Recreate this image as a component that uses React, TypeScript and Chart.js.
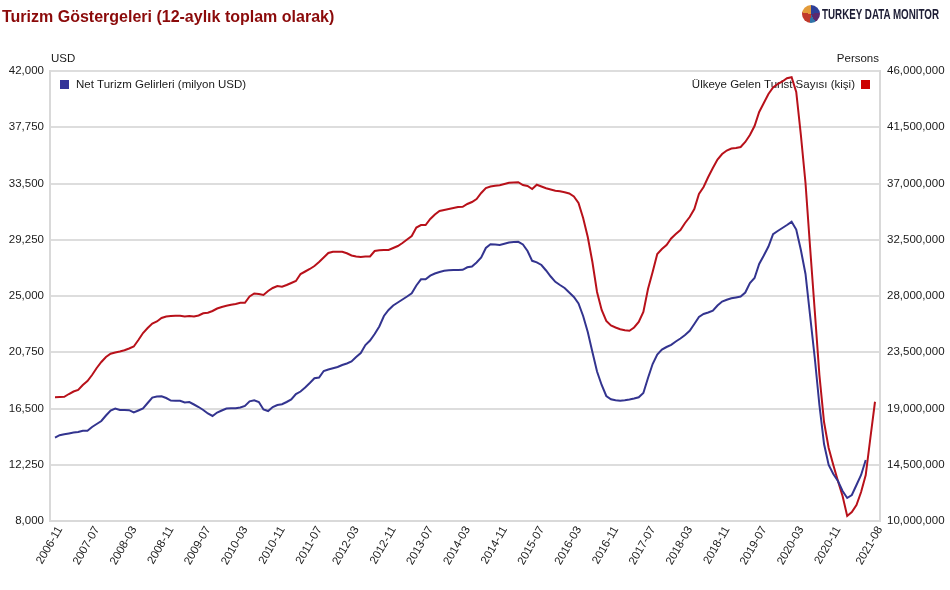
import React, { useEffect, useRef } from "react";
import { Chart, registerables } from "chart.js";

Chart.register(...registerables);

// Monthly categories 2006-11 .. 2021-08
const START_YEAR = 2006;
const START_MONTH = 11;
const MONTH_COUNT = 178;
const months: string[] = [];
for (let k = 0; k < MONTH_COUNT; k++) {
  const m0 = START_MONTH - 1 + k;
  const y = START_YEAR + Math.floor(m0 / 12);
  const m = (m0 % 12) + 1;
  months.push(`${y}-${m < 10 ? "0" + m : m}`);
}

const tickLabels = [
  "2006-11", "2007-07", "2008-03", "2008-11", "2009-07", "2010-03", "2010-11",
  "2011-07", "2012-03", "2012-11", "2013-07", "2014-03", "2014-11", "2015-07",
  "2016-03", "2016-11", "2017-07", "2018-03", "2018-11", "2019-07", "2020-03",
  "2020-11", "2021-08",
];

const leftTicks = [8000, 12250, 16500, 20750, 25000, 29250, 33500, 37750, 42000];
const rightTicks = [10000000, 14500000, 19000000, 23500000, 28000000, 32500000, 37000000, 41500000, 46000000];

// Net Turizm Gelirleri (milyon USD), 12-month total
const netTourismRevenue: (number | null)[] = [
  14294, 14483, 14551, 14619, 14679, 14724, 14815, 14823, 15102, 15329,
  15555, 15971, 16349, 16500, 16387, 16387, 16371, 16198, 16349, 16507,
  16915, 17323, 17399, 17429, 17293, 17104, 17089, 17082, 16953, 16991,
  16802, 16613, 16387, 16122, 15933, 16198, 16349, 16500, 16515, 16515,
  16575, 16689, 17044, 17127, 16991, 16424, 16311, 16613, 16764, 16825,
  16991, 17180, 17595, 17784, 18086, 18426, 18782, 18842, 19333, 19447,
  19537, 19635, 19787, 19900, 20051, 20391, 20693, 21298, 21638, 22129,
  22695, 23489, 23942, 24282, 24509, 24736, 24962, 25204, 25793, 26262,
  26262, 26541, 26700, 26813, 26904, 26949, 26964, 26964, 26980, 27168,
  27229, 27531, 27909, 28627, 28914, 28891, 28853, 28944, 29035, 29080,
  29095, 28891, 28400, 27659, 27546, 27342, 26927, 26473, 26073, 25831,
  25604, 25264, 24924, 24433, 23489, 22280, 20769, 19295, 18275, 17444,
  17202, 17127, 17089, 17119, 17180, 17255, 17346, 17671, 18804, 19862,
  20580, 20958, 21147, 21313, 21562, 21789, 22053, 22371, 22884, 23413,
  23640, 23753, 23889, 24282, 24584, 24720, 24826, 24894, 24962, 25264,
  25982, 26360, 27418, 28060, 28740, 29669, 29911, 30138, 30364, 30606,
  30024, 28475, 26662, 23489, 20315, 16764, 13818, 12231, 11551, 11022,
  10266, 9738, 9964, 10720, 11475, 12609, null, null,
];

// Ülkeye Gelen Turist Sayısı (kişi), 12-month total
const touristArrivals: (number | null)[] = [
  19900000, 19920000, 19940000, 20160000, 20360000, 20480000, 20880000, 21200000, 21680000, 22240000,
  22720000, 23120000, 23380000, 23480000, 23560000, 23660000, 23800000, 23960000, 24480000, 25040000,
  25440000, 25800000, 25960000, 26240000, 26360000, 26400000, 26420000, 26420000, 26360000, 26400000,
  26360000, 26440000, 26620000, 26660000, 26800000, 27000000, 27120000, 27220000, 27300000, 27360000,
  27460000, 27460000, 27960000, 28200000, 28160000, 28080000, 28400000, 28640000, 28800000, 28740000,
  28880000, 29040000, 29200000, 29760000, 29960000, 30160000, 30400000, 30720000, 31080000, 31440000,
  31540000, 31540000, 31540000, 31420000, 31240000, 31160000, 31120000, 31160000, 31160000, 31600000,
  31660000, 31680000, 31680000, 31840000, 32000000, 32240000, 32520000, 32800000, 33480000, 33680000,
  33680000, 34160000, 34520000, 34800000, 34880000, 34960000, 35040000, 35120000, 35140000, 35360000,
  35520000, 35760000, 36240000, 36640000, 36760000, 36820000, 36860000, 36960000, 37060000, 37080000,
  37100000, 36880000, 36800000, 36560000, 36900000, 36760000, 36620000, 36520000, 36420000, 36380000,
  36300000, 36200000, 35960000, 35440000, 34240000, 32720000, 30720000, 28320000, 26880000, 26000000,
  25640000, 25480000, 25340000, 25260000, 25220000, 25480000, 25920000, 26720000, 28560000, 29920000,
  31360000, 31760000, 32080000, 32600000, 32960000, 33280000, 33840000, 34320000, 34960000, 36160000,
  36720000, 37520000, 38240000, 38920000, 39360000, 39640000, 39800000, 39840000, 39920000, 40320000,
  40880000, 41600000, 42720000, 43440000, 44160000, 44680000, 44960000, 45160000, 45420000, 45500000,
  44320000, 40880000, 37040000, 31840000, 26800000, 21680000, 17920000, 15840000, 14480000, 13200000,
  12000000, 10400000, 10720000, 11280000, 12320000, 13680000, 16640000, 19540000,
];

const BLUE = "#33348f";
const RED = "#b8111a";
const FONT = "'Liberation Sans', Arial, Helvetica, sans-serif";
const TEXT = "#1a1a1a";

const overlayPlugin = {
  id: "overlayTexts",
  beforeDatasetsDraw(chart: any) {
    const { ctx, chartArea } = chart;
    ctx.save();
    ctx.font = `11.5px ${FONT}`;
    ctx.fillStyle = TEXT;
    ctx.textBaseline = "middle";
    // axis titles
    ctx.textAlign = "left";
    ctx.fillText("USD", chartArea.left + 1, 59);
    ctx.textAlign = "right";
    ctx.fillText("Persons", chartArea.right - 1, 59);
    // legend items
    ctx.fillStyle = "#333399";
    ctx.fillRect(chartArea.left + 10, 80, 9, 9);
    ctx.fillStyle = TEXT;
    ctx.textAlign = "left";
    ctx.fillText("Net Turizm Gelirleri (milyon USD)", chartArea.left + 26, 84.5);
    ctx.fillStyle = "#cc0000";
    ctx.fillRect(chartArea.right - 19, 80, 9, 9);
    ctx.fillStyle = TEXT;
    ctx.textAlign = "right";
    ctx.fillText("Ülkeye Gelen Turist Sayısı (kişi)", chartArea.right - 25, 84.5);
    ctx.restore();
  },
};

export default function App() {
  const canvasRef = useRef<HTMLCanvasElement | null>(null);

  useEffect(() => {
    document.body.style.margin = "0";
    const canvas = canvasRef.current;
    if (!canvas) return;
    const tickIdx = tickLabels.map((t) => months.indexOf(t));

    const chart = new Chart(canvas, {
      type: "line",
      data: {
        datasets: [
          {
            label: "Net Turizm Gelirleri (milyon USD)",
            data: months.map((_, i) => ({ x: i, y: netTourismRevenue[i] })) as any,
            borderColor: BLUE,
            backgroundColor: BLUE,
            borderWidth: 2,
            pointRadius: 0,
            tension: 0,
            yAxisID: "yL",
            spanGaps: false,
          },
          {
            label: "Ülkeye Gelen Turist Sayısı (kişi)",
            data: months.map((_, i) => ({ x: i, y: touristArrivals[i] })) as any,
            borderColor: RED,
            backgroundColor: RED,
            borderWidth: 2,
            pointRadius: 0,
            tension: 0,
            yAxisID: "yR",
          },
        ],
      },
      options: {
        responsive: false,
        animation: false,
        devicePixelRatio: 1,
        layout: { padding: { top: 71, left: 0, right: 0, bottom: 0 } },
        plugins: {
          legend: { display: false },
          tooltip: { enabled: false },
          title: { display: false },
        },
        scales: {
          x: {
            type: "linear",
            min: -1.08,
            max: 178.08,
            grid: { display: false, drawTicks: false },
            border: { display: true, color: "#d9d9d9", width: 2 },
            afterBuildTicks: (scale: any) => {
              scale.ticks = tickIdx.map((v) => ({ value: v }));
            },
            afterFit: (scale: any) => {
              scale.height = 69;
            },
            ticks: {
              autoSkip: false,
              minRotation: 60,
              maxRotation: 60,
              padding: 3,
              labelOffset: 5,
              color: TEXT,
              font: { family: FONT, size: 11.5 },
              callback: (v: any) => months[Math.round(Number(v))] ?? "",
            },
          },
          yL: {
            type: "linear",
            position: "left",
            min: 8000,
            max: 42000,
            afterBuildTicks: (scale: any) => {
              scale.ticks = leftTicks.map((v) => ({ value: v }));
            },
            afterFit: (scale: any) => {
              scale.width = 50;
            },
            grid: { color: "#dddddd", lineWidth: 2, drawTicks: false },
            border: { display: true, color: "#d9d9d9", width: 2 },
            ticks: {
              padding: 6,
              color: TEXT,
              font: { family: FONT, size: 11.5 },
              callback: (v: any) => Number(v).toLocaleString("en-US"),
            },
          },
          yR: {
            type: "linear",
            position: "right",
            min: 10000000,
            max: 46000000,
            afterBuildTicks: (scale: any) => {
              scale.ticks = rightTicks.map((v) => ({ value: v }));
            },
            afterFit: (scale: any) => {
              scale.width = 70;
            },
            grid: { display: false, drawTicks: false },
            border: { display: true, color: "#d9d9d9", width: 2 },
            ticks: {
              padding: 7,
              color: TEXT,
              font: { family: FONT, size: 11.5 },
              callback: (v: any) => Number(v).toLocaleString("en-US"),
            },
          },
        },
      } as any,
      plugins: [overlayPlugin],
    });
    return () => chart.destroy();
  }, []);

  return (
    <div style={{ position: "relative", width: 950, height: 590, background: "#fff", overflow: "hidden" }}>
      <canvas ref={canvasRef} width={950} height={590} style={{ display: "block", width: 950, height: 590 }} />
      <div
        style={{
          position: "absolute",
          left: 2,
          top: 7,
          fontFamily: FONT,
          fontWeight: "bold",
          fontSize: 16,
          lineHeight: "20px",
          color: "#8b0a0a",
          whiteSpace: "nowrap",
        }}
      >
        Turizm Göstergeleri (12-aylık toplam olarak)
      </div>
      <div style={{ position: "absolute", left: 802, top: 5, display: "flex", alignItems: "center" }}>
        <div
          style={{
            width: 18,
            height: 18,
            borderRadius: "50%",
            background:
              "conic-gradient(#2e3f98 0 22%, #5b2a6e 22% 42%, #2f73a8 42% 52%, #c0392b 52% 78%, #e39b3a 78% 100%)",
          }}
        />
        <div
          style={{
            marginLeft: 2,
            fontFamily: FONT,
            fontWeight: "bold",
            fontSize: 14,
            color: "#1d1d35",
            whiteSpace: "nowrap",
            transform: "scaleX(0.7)",
            transformOrigin: "left center",
          }}
        >
          TURKEY DATA MONITOR
        </div>
      </div>
    </div>
  );
}
